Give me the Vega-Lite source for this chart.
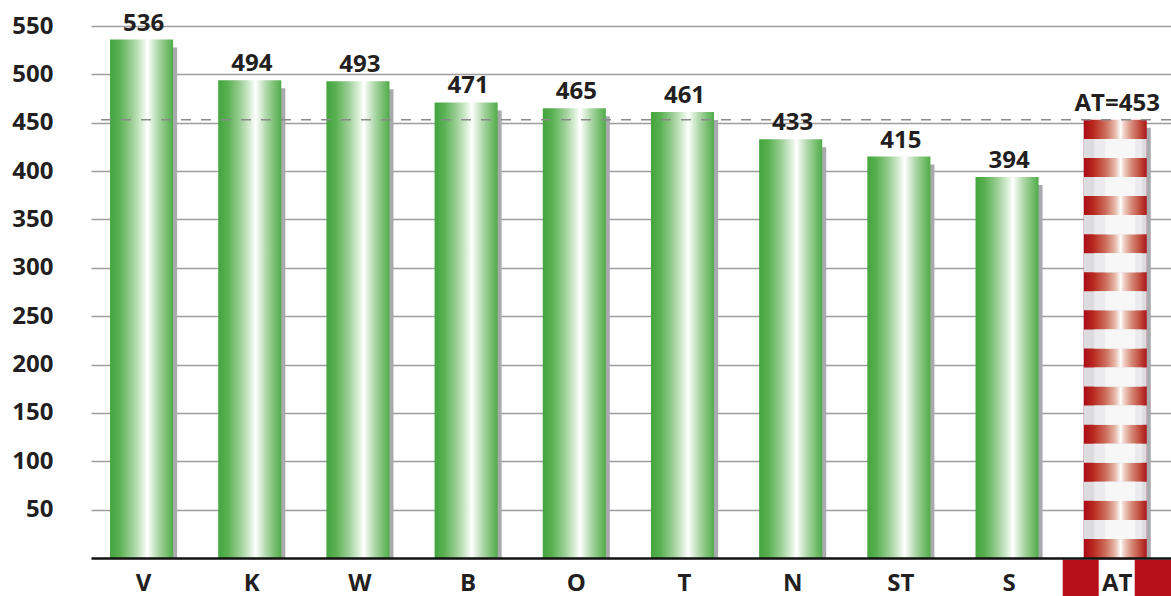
{
  "$schema": "https://vega.github.io/schema/vega-lite/v6.json",
  "autosize": {"type": "none"},
  "width": 1080,
  "height": 532,
  "padding": {"left": 91, "top": 26, "right": 0, "bottom": 38},
  "background": "#ffffff",
  "config": {
    "view": {"stroke": null},
    "font": "Open Sans",
    "text": {"font": "Open Sans"}
  },
  "data": {
    "values": [
      {"region": "V", "value": 536, "label": "536"},
      {"region": "K", "value": 494, "label": "494"},
      {"region": "W", "value": 493, "label": "493"},
      {"region": "B", "value": 471, "label": "471"},
      {"region": "O", "value": 465, "label": "465"},
      {"region": "T", "value": 461, "label": "461"},
      {"region": "N", "value": 433, "label": "433"},
      {"region": "ST", "value": 415, "label": "415"},
      {"region": "S", "value": 394, "label": "394"},
      {"region": "AT", "value": 453, "label": "AT=453"}
    ]
  },
  "encoding": {
    "x": {
      "field": "region",
      "type": "nominal",
      "sort": null,
      "scale": {"paddingInner": 0.417, "paddingOuter": 0.2, "align": 0.44},
      "axis": {
        "title": null,
        "zindex": 1,
        "labelAngle": 0,
        "labelFont": "Open Sans",
        "labelFontWeight": "bold",
        "labelFontSize": 24,
        "labelColor": "#231f20",
        "labelBaseline": "alphabetic",
        "labelPadding": 32,
        "labelOffset": 2,
        "ticks": false,
        "tickSize": 0,
        "domainColor": "#111111",
        "domainWidth": 2.5,
        "grid": false
      }
    }
  },
  "layer": [
    {
      "mark": {"type": "bar", "color": "#a9aaae", "xOffset": 4, "yOffset": 8, "y2Offset": 0},
      "encoding": {
        "y": {
          "field": "value",
          "type": "quantitative",
          "scale": {"domain": [0, 550], "nice": false},
          "axis": {
            "title": null,
            "values": [50, 100, 150, 200, 250, 300, 350, 400, 450, 500, 550],
            "labelFont": "Open Sans",
            "labelFontWeight": "bold",
            "labelFontSize": 24,
            "labelColor": "#231f20",
            "labelPadding": 38,
            "ticks": false,
            "domain": false,
            "grid": true,
            "gridColor": "#9d9d9d",
            "gridWidth": 1.5
          }
        },
        "y2": {"datum": 0}
      }
    },
    {
      "transform": [{"filter": "datum.region !== 'AT'"}],
      "mark": {
        "type": "bar",
        "color": {
          "gradient": "linear", "x1": 0, "y1": 0, "x2": 1, "y2": 0,
          "stops": [
            {"offset": 0, "color": "#43a53e"},
            {"offset": 0.15, "color": "#59b152"},
            {"offset": 0.35, "color": "#9ccf96"},
            {"offset": 0.5, "color": "#d6edd3"},
            {"offset": 0.59, "color": "#ffffff"},
            {"offset": 0.62, "color": "#f2f9f1"},
            {"offset": 0.75, "color": "#b3daae"},
            {"offset": 0.9, "color": "#76be6f"},
            {"offset": 1, "color": "#50ac49"}
          ]
        }
      },
      "encoding": {"y": {"field": "value", "type": "quantitative"}}
    },
    {
      "transform": [{"filter": "datum.region === 'AT'"}],
      "mark": {
        "type": "bar",
        "color": {
          "gradient": "linear", "x1": 0, "y1": 0, "x2": 1, "y2": 0,
          "stops": [
            {"offset": 0, "color": "#a90b16"},
            {"offset": 0.15, "color": "#b8281f"},
            {"offset": 0.35, "color": "#ce6e5d"},
            {"offset": 0.5, "color": "#e6b8a9"},
            {"offset": 0.59, "color": "#ffffff"},
            {"offset": 0.62, "color": "#f4dbd3"},
            {"offset": 0.75, "color": "#d78f7e"},
            {"offset": 0.9, "color": "#bf4639"},
            {"offset": 1, "color": "#ac181c"}
          ]
        }
      },
      "encoding": {"y": {"field": "value", "type": "quantitative"}}
    },
    {
      "transform": [{"filter": "datum.region === 'AT'"}],
      "mark": {
        "type": "rule",
        "color": "#dcdce0",
        "strokeWidth": 63,
        "strokeDash": [19.05, 19.05],
        "strokeDashOffset": 19.05,
        "strokeCap": "butt"
      },
      "encoding": {
        "y": {"field": "value", "type": "quantitative"},
        "y2": {"datum": 0}
      }
    },
    {
      "transform": [{"filter": "datum.region === 'AT'"}],
      "mark": {
        "type": "rule",
        "color": "#ebebee",
        "strokeWidth": 48,
        "xOffset": 3,
        "strokeDash": [19.05, 19.05],
        "strokeDashOffset": 19.05,
        "strokeCap": "butt"
      },
      "encoding": {
        "y": {"field": "value", "type": "quantitative"},
        "y2": {"datum": 0}
      }
    },
    {
      "transform": [{"filter": "datum.region === 'AT'"}],
      "mark": {
        "type": "rule",
        "color": "#f7f7f8",
        "strokeWidth": 30,
        "xOffset": 5,
        "strokeDash": [19.05, 19.05],
        "strokeDashOffset": 19.05,
        "strokeCap": "butt"
      },
      "encoding": {
        "y": {"field": "value", "type": "quantitative"},
        "y2": {"datum": 0}
      }
    },
    {
      "transform": [{"filter": "datum.region === 'AT'"}],
      "mark": {"type": "rule", "color": "#8a8a8a", "strokeWidth": 1.5, "strokeDash": [10, 10]},
      "encoding": {
        "x": null,
        "y": {"field": "value", "type": "quantitative"}
      }
    },
    {
      "mark": {
        "type": "text",
        "font": "Open Sans",
        "fontWeight": "bold",
        "fontSize": 24,
        "color": "#231f20",
        "baseline": "alphabetic",
        "dy": -9,
        "dx": 2
      },
      "encoding": {
        "y": {"field": "value", "type": "quantitative"},
        "text": {"field": "label"}
      }
    },
    {
      "transform": [{"filter": "datum.region === 'AT'"}],
      "mark": {"type": "bar", "color": "#b70f19", "width": 109, "xOffset": 2, "y2Offset": 38, "yOffset": 1.5},
      "encoding": {
        "y": {"datum": 0, "type": "quantitative"},
        "y2": {"datum": 0}
      }
    },
    {
      "transform": [{"filter": "datum.region === 'AT'"}],
      "mark": {"type": "bar", "color": "#ffffff", "width": 36, "xOffset": 1.5, "y2Offset": 38, "yOffset": 1.5},
      "encoding": {
        "y": {"datum": 0, "type": "quantitative"},
        "y2": {"datum": 0}
      }
    }
  ]
}
